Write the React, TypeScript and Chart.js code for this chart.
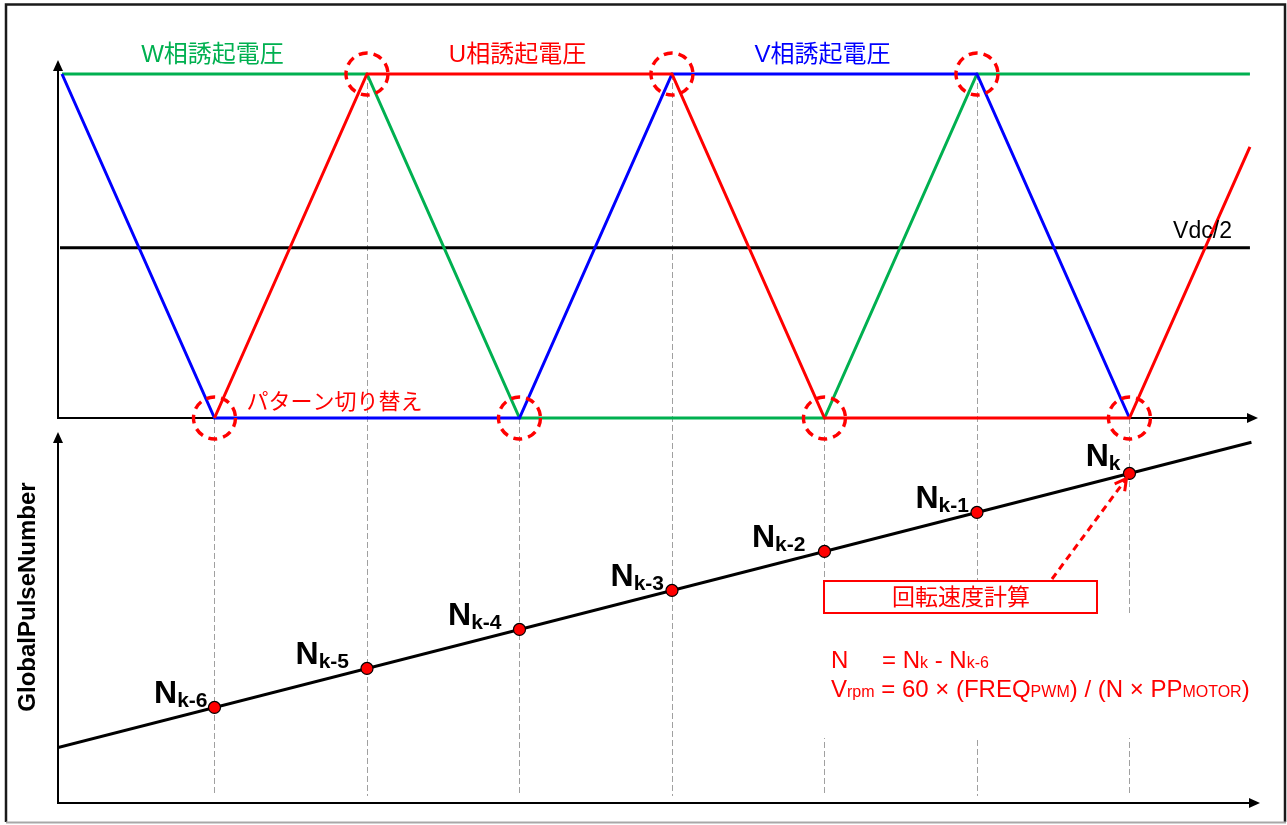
import React, { useEffect, useRef } from 'react';
import { Chart, registerables } from 'chart.js';

Chart.register(...registerables);

const W = 1287;
const H = 825;

// ---- top panel: induced phase voltages (x in 60° steps, y normalised 0..1) ----
const wPhaseX = [0, 2, 3, 5, 6, 7.79];
const wPhaseY = [1, 1, 0, 0, 1, 1];
const uPhaseX = [1, 2, 4, 5, 7, 7.79];
const uPhaseY = [0, 1, 1, 0, 0, 0.788];
const vPhaseX = [0, 1, 3, 4, 6, 7];
const vPhaseY = [1, 0, 0, 1, 1, 0];
const halfX = [-0.013, 7.79];
const halfY = [0.495, 0.495];
const switchX = [1, 2, 3, 4, 5, 6, 7];
const switchY = [0, 1, 0, 1, 0, 1, 0];
const phaseLabels = ['W相誘起電圧', 'U相誘起電圧', 'V相誘起電圧'];
const phaseLabelX = [1, 3, 5];
const phaseColors = ['#00B050', '#FF0000', '#0000FF'];

// ---- bottom panel: GlobalPulseNumber ----
const pulseX = [1, 2, 3, 4, 5, 6, 7];
const pulseY = [2.45, 3.45, 4.45, 5.45, 6.45, 7.45, 8.45];
const pulseSub = ['k-6', 'k-5', 'k-4', 'k-3', 'k-2', 'k-1', 'k'];
const pulseLineX = [-0.026, 7.8];
const pulseLineY = [1.42, 9.25];

// label placement (layout only)
const labelGap = [7, 18, 18, 8, 19, 8, 9];
const labelRise = [4, 4, 4, 4, 4, 4, 7];

const LATIN = '"Liberation Sans", Arial, "Noto Sans CJK JP", sans-serif';
const JP = '"Liberation Sans", "Noto Sans CJK JP", sans-serif';
const RED = '#FF0000';

const zip = (xs: number[], ys: number[]) => xs.map((x, i) => ({ x, y: ys[i] }));

function arrowLine(ctx: CanvasRenderingContext2D, x1: number, y1: number, x2: number, y2: number) {
  const a = Math.atan2(y2 - y1, x2 - x1);
  const L = 11;
  const hw = 5;
  const bx = x2 - L * Math.cos(a);
  const by = y2 - L * Math.sin(a);
  ctx.beginPath();
  ctx.moveTo(x1, y1);
  ctx.lineTo(bx, by);
  ctx.stroke();
  ctx.beginPath();
  ctx.moveTo(x2, y2);
  ctx.lineTo(bx + hw * Math.sin(a), by - hw * Math.cos(a));
  ctx.lineTo(bx - hw * Math.sin(a), by + hw * Math.cos(a));
  ctx.closePath();
  ctx.fill();
}

function drawRuns(ctx: CanvasRenderingContext2D, x: number, y: number, runs: [string, boolean][], main: string, sub: string) {
  for (const [t, s] of runs) {
    ctx.font = s ? sub : main;
    ctx.fillText(t, x, y);
    x += ctx.measureText(t).width;
  }
}

const diagramPlugin = {
  id: 'diagram',
  beforeDraw(chart: any) {
    const ctx: CanvasRenderingContext2D = chart.ctx;
    ctx.save();
    ctx.fillStyle = '#FFFFFF';
    ctx.fillRect(0, 0, W, H);
    // frame
    ctx.lineWidth = 2.5;
    ctx.strokeStyle = '#1a1a1a';
    ctx.beginPath();
    ctx.moveTo(6, 822);
    ctx.lineTo(6, 4.5);
    ctx.lineTo(1285, 4.5);
    ctx.lineTo(1285, 822);
    ctx.stroke();
    ctx.strokeStyle = '#a8a8a8';
    ctx.lineWidth = 2;
    ctx.beginPath();
    ctx.moveTo(6, 822.5);
    ctx.lineTo(1286, 822.5);
    ctx.stroke();
    ctx.restore();
  },
  beforeDatasetsDraw(chart: any) {
    const ctx: CanvasRenderingContext2D = chart.ctx;
    const xs = chart.scales.x;
    const yt = chart.scales.yTop;
    const yb = chart.scales.yBot;
    const area = chart.chartArea;
    ctx.save();
    // dashed guide lines
    ctx.strokeStyle = '#A0A0A0';
    ctx.lineWidth = 1;
    ctx.setLineDash([6, 3]);
    switchX.forEach((v, i) => {
      const px = Math.round(xs.getPixelForValue(v)) + 0.5;
      ctx.beginPath();
      ctx.moveTo(px, yt.getPixelForValue(switchY[i]));
      ctx.lineTo(px, yb.getPixelForValue(0.18));
      ctx.stroke();
    });
    ctx.setLineDash([]);
    // white area behind formula
    ctx.fillStyle = '#FFFFFF';
    ctx.fillRect(818, 614, 446, 124);
    // axes
    ctx.strokeStyle = '#000000';
    ctx.fillStyle = '#000000';
    ctx.lineWidth = 2;
    const left = area.left;
    const t0 = yt.getPixelForValue(0);
    arrowLine(ctx, left, t0, area.right - 2, t0);
    arrowLine(ctx, left, t0 + 1, left, yt.getPixelForValue(1.041));
    const b0 = yb.getPixelForValue(0);
    arrowLine(ctx, left - 1, b0, area.right, b0);
    arrowLine(ctx, left, b0 + 1, left, yb.getPixelForValue(9.51));
    ctx.restore();
  },
  afterDatasetsDraw(chart: any) {
    const ctx: CanvasRenderingContext2D = chart.ctx;
    const xs = chart.scales.x;
    const yt = chart.scales.yTop;
    const yb = chart.scales.yBot;
    ctx.save();
    // switching circles
    ctx.strokeStyle = RED;
    ctx.lineWidth = 3.4;
    ctx.setLineDash([9, 6]);
    switchX.forEach((v, i) => {
      ctx.beginPath();
      ctx.arc(xs.getPixelForValue(v), yt.getPixelForValue(switchY[i]), 21, 0, Math.PI * 2);
      ctx.stroke();
    });
    ctx.setLineDash([]);

    // phase labels
    ctx.textAlign = 'center';
    ctx.textBaseline = 'middle';
    ctx.font = `24px ${JP}`;
    phaseLabels.forEach((t, i) => {
      ctx.fillStyle = phaseColors[i];
      ctx.fillText(t, xs.getPixelForValue(phaseLabelX[i]) - 2, yt.getPixelForValue(1) - 19);
    });
    // Vdc/2
    ctx.fillStyle = '#000000';
    ctx.textAlign = 'right';
    ctx.textBaseline = 'alphabetic';
    ctx.font = `23px ${LATIN}`;
    ctx.fillText('Vdc/2', xs.getPixelForValue(halfX[1]) - 18, yt.getPixelForValue(halfY[1]) - 10);
    // pattern switch label
    ctx.fillStyle = RED;
    ctx.textAlign = 'left';
    ctx.textBaseline = 'middle';
    ctx.font = `22px ${JP}`;
    ctx.fillText('パターン切り替え', xs.getPixelForValue(switchX[0]) + 32, yt.getPixelForValue(0) - 15);

    // y title bottom
    ctx.save();
    ctx.fillStyle = '#000000';
    ctx.font = `bold 24px ${LATIN}`;
    ctx.textAlign = 'center';
    ctx.textBaseline = 'alphabetic';
    ctx.translate(35, 597);
    ctx.rotate(-Math.PI / 2);
    ctx.fillText('GlobalPulseNumber', 0, 0);
    ctx.restore();

    // N labels
    ctx.fillStyle = '#000000';
    ctx.textAlign = 'left';
    ctx.textBaseline = 'alphabetic';
    const fN = `bold 32px ${LATIN}`;
    const fS = `bold 21px ${LATIN}`;
    pulseX.forEach((v, i) => {
      const px = xs.getPixelForValue(v);
      const py = yb.getPixelForValue(pulseY[i]);
      ctx.font = fN;
      const wN = ctx.measureText('N').width;
      ctx.font = fS;
      const wS = ctx.measureText(pulseSub[i]).width;
      const l = px - labelGap[i] - wN - wS;
      ctx.font = fN;
      ctx.fillText('N', l, py - labelRise[i]);
      ctx.font = fS;
      ctx.fillText(pulseSub[i], l + wN, py - labelRise[i] + 4);
    });

    // speed calc box
    ctx.fillStyle = '#FFFFFF';
    ctx.fillRect(824, 581, 273, 32);
    ctx.strokeStyle = RED;
    ctx.lineWidth = 2;
    ctx.strokeRect(824, 581, 273, 32);
    ctx.fillStyle = RED;
    ctx.font = `23px ${JP}`;
    ctx.textAlign = 'center';
    ctx.textBaseline = 'middle';
    ctx.fillText('回転速度計算', 961, 599);

    // dashed arrow to Nk
    const tx = xs.getPixelForValue(pulseX[6]) - 3;
    const ty = yb.getPixelForValue(pulseY[6]) + 5;
    const sx = 1052;
    const sy = 579;
    ctx.strokeStyle = RED;
    ctx.lineWidth = 3;
    ctx.setLineDash([7, 5]);
    ctx.beginPath();
    ctx.moveTo(sx, sy);
    ctx.lineTo(tx, ty);
    ctx.stroke();
    ctx.setLineDash([]);
    const a = Math.atan2(ty - sy, tx - sx);
    ctx.beginPath();
    ctx.moveTo(tx + 13 * Math.cos(a + Math.PI - 0.5), ty + 13 * Math.sin(a + Math.PI - 0.5));
    ctx.lineTo(tx, ty);
    ctx.lineTo(tx + 13 * Math.cos(a + Math.PI + 0.5), ty + 13 * Math.sin(a + Math.PI + 0.5));
    ctx.stroke();

    // formula
    ctx.fillStyle = RED;
    ctx.textAlign = 'left';
    ctx.textBaseline = 'alphabetic';
    const main = `24px ${LATIN}`;
    const sub = `16px ${LATIN}`;
    ctx.font = main;
    ctx.fillText('N', 831, 668);
    drawRuns(ctx, 882, 668, [['= N', false], ['k', true], [' - N', false], ['k-6', true]], main, sub);
    drawRuns(
      ctx,
      831,
      697,
      [
        ['V', false],
        ['rpm', true],
        [' = 60 × (FREQ', false],
        ['PWM', true],
        [') / (N × PP', false],
        ['MOTOR', true],
        [')', false],
      ],
      main,
      sub
    );
    ctx.restore();
  },
};

export default function App() {
  const ref = useRef<HTMLCanvasElement | null>(null);
  useEffect(() => {
    if (!ref.current) return;
    const chart = new Chart(ref.current, {
      type: 'line',
      data: {
        datasets: [
          {
            label: 'pulses',
            type: 'scatter',
            data: zip(pulseX, pulseY),
            yAxisID: 'yBot',
            pointRadius: 6,
            pointBackgroundColor: RED,
            pointBorderColor: '#000000',
            pointBorderWidth: 1.2,
            showLine: false,
            order: 0,
          },
          {
            label: 'pulseLine',
            data: zip(pulseLineX, pulseLineY),
            yAxisID: 'yBot',
            borderColor: '#000000',
            borderWidth: 3,
            pointRadius: 0,
            tension: 0,
            order: 1,
          },
          {
            label: 'U',
            data: zip(uPhaseX, uPhaseY),
            yAxisID: 'yTop',
            borderColor: '#FF0000',
            borderWidth: 3,
            pointRadius: 0,
            tension: 0,
            order: 2,
          },
          {
            label: 'V',
            data: zip(vPhaseX, vPhaseY),
            yAxisID: 'yTop',
            borderColor: '#0000FF',
            borderWidth: 3,
            pointRadius: 0,
            tension: 0,
            order: 3,
          },
          {
            label: 'W',
            data: zip(wPhaseX, wPhaseY),
            yAxisID: 'yTop',
            borderColor: '#00B050',
            borderWidth: 3,
            pointRadius: 0,
            tension: 0,
            order: 4,
          },
          {
            label: 'Vdc/2',
            data: zip(halfX, halfY),
            yAxisID: 'yTop',
            borderColor: '#000000',
            borderWidth: 3,
            pointRadius: 0,
            tension: 0,
            order: 5,
          },
        ],
      },
      options: {
        animation: false,
        responsive: false,
        events: [],
        layout: { padding: { left: 58, right: 27, top: 40, bottom: 22 } },
        plugins: { legend: { display: false }, tooltip: { enabled: false } },
        scales: {
          x: { type: 'linear', display: false, min: -0.0262, max: 7.856 },
          yTop: { type: 'linear', display: false, min: -1.1192, max: 1.0988 },
          yBot: { type: 'linear', display: false, min: 0, max: 19.564 },
        },
      },
      plugins: [diagramPlugin],
    } as any);
    return () => chart.destroy();
  }, []);
  return (
    <div style={{ position: 'absolute', left: 0, top: 0, width: W, height: H, background: '#fff' }}>
      <canvas ref={ref} width={W} height={H} style={{ display: 'block', width: W, height: H }} />
    </div>
  );
}
